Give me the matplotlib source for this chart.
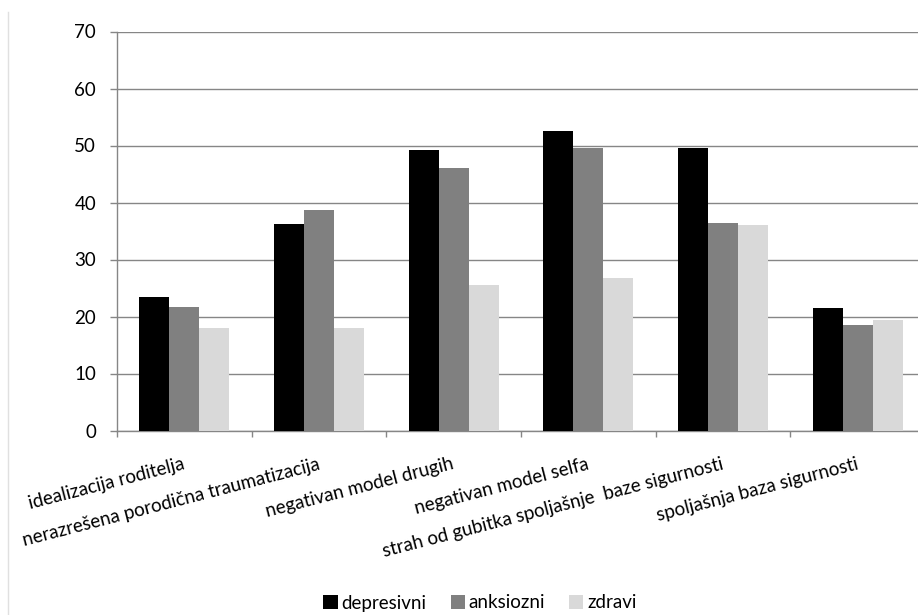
import matplotlib
matplotlib.use("Agg")
import matplotlib.pyplot as plt
import matplotlib.transforms as mtransforms
from matplotlib.patches import Patch
from matplotlib.lines import Line2D
import numpy as np

categories = [
    "idealizacija roditelja",
    "nerazrešena porodična traumatizacija",
    "negativan model drugih",
    "negativan model selfa",
    "strah od gubitka spoljašnje  baze sigurnosti",
    "spoljašnja baza sigurnosti",
]
series_names = ["depresivni", "anksiozni", "zdravi"]
depresivni = [23.4, 36.3, 49.2, 52.5, 49.6, 21.5]
anksiozni = [21.6, 38.6, 46.0, 49.6, 36.4, 18.5]
zdravi = [17.9, 17.9, 25.6, 26.7, 36.0, 19.3]
y_ticks = [0, 10, 20, 30, 40, 50, 60, 70]

colors = ["#000000", "#808080", "#d9d9d9"]
grid_color = "#868686"

plt.rcParams["font.family"] = ["Lato", "DejaVu Sans"]
FS = 13.5

fig = plt.figure(figsize=(9.18, 6.15), dpi=100)
ax = fig.add_axes([117 / 918, 1 - 430.5 / 615, 808 / 918, 399 / 615])

x = np.arange(len(categories))
w = 1 / 4.5
for k, (vals, col) in enumerate(zip([depresivni, anksiozni, zdravi], colors)):
    ax.bar(x + (k - 1) * w, vals, width=w, color=col, zorder=3)

ax.set_xlim(-0.5, len(categories) - 0.5)
ax.set_ylim(0, 70)
ax.set_yticks(y_ticks)
ax.set_yticklabels([str(v) for v in y_ticks], fontsize=FS)
ax.yaxis.grid(True, color=grid_color, linewidth=1.0, zorder=0)
ax.set_axisbelow(True)

# category boundary ticks on the x axis
ax.set_xticks(np.arange(-0.5, len(categories) + 0.5, 1.0))
ax.set_xticklabels([])
ax.tick_params(axis="x", direction="out", length=4.5, width=1.0, color=grid_color)
ax.tick_params(axis="y", direction="out", length=5, width=1.0, color=grid_color,
               pad=10, labelcolor="black")

for side in ["top", "right"]:
    ax.spines[side].set_visible(False)
for side in ["left", "bottom"]:
    ax.spines[side].set_color(grid_color)
    ax.spines[side].set_linewidth(1.0)

# rotated category labels, top-right corner anchored under each group
base = mtransforms.blended_transform_factory(ax.transData, ax.transAxes)
for i, name in enumerate(categories):
    tr = base + mtransforms.ScaledTranslation(-2 / 100, -25 / 100, fig.dpi_scale_trans)
    ax.text(i, 0, name, transform=tr, rotation=14.5, rotation_mode="anchor",
            ha="right", va="top", fontsize=FS, clip_on=False)

handles = [Patch(facecolor=c, edgecolor="none") for c in colors]
fig.legend(handles, series_names, loc="center", bbox_to_anchor=(480 / 918, 1 - 603 / 615),
           ncol=3, frameon=False, fontsize=FS, handlelength=0.75, handleheight=0.75,
           handletextpad=0.2, columnspacing=1.3, borderaxespad=0)

# faint chart-area border on the left
fig.add_artist(Line2D([8 / 918, 8 / 918], [0, 1 - 12 / 615], transform=fig.transFigure,
                      color="#e0e0e0", linewidth=1.0))

fig.savefig("out.png", dpi=100)
